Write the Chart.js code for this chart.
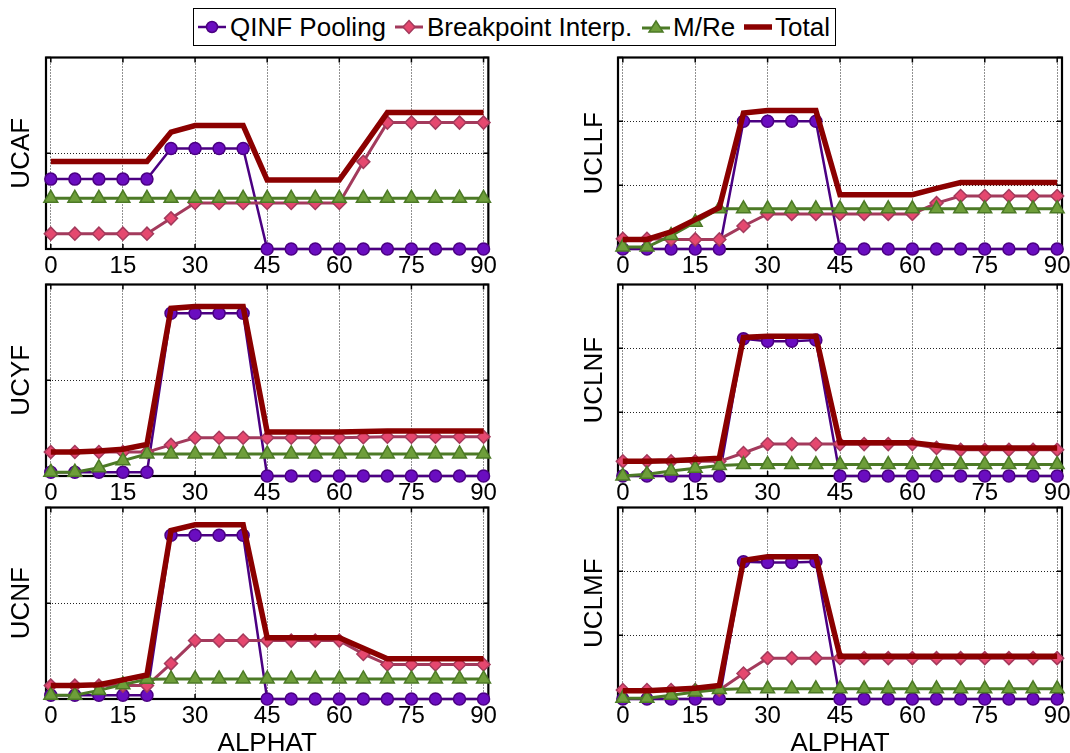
<!DOCTYPE html>
<html><head><meta charset="utf-8">
<script src="https://cdn.jsdelivr.net/npm/chart.js@4.4.1/dist/chart.umd.min.js"></script>
<style>
html,body{margin:0;padding:0;background:#fff;width:1070px;height:753px;overflow:hidden;font-family:"Liberation Sans",Arial,sans-serif;}
.pane{position:absolute;}
#legend{position:absolute;left:193px;top:8px;width:641px;height:36px;border:1.5px solid #000;background:#fff;color:#000;font-size:26px;}
#legend .ic{position:absolute;top:0;width:28px;height:36px;}
#legend .tx{position:absolute;top:0;line-height:36px;white-space:nowrap;}
</style></head>
<body>
<div id="legend">
  <svg class="ic" style="left:4px" viewBox="0 0 28 36"><line x1="0" y1="18" x2="28" y2="18" stroke="#4B0082" stroke-width="2.5"/><circle cx="14" cy="18" r="5.5" fill="#6A0DC0" stroke="#4B0082" stroke-width="1.5"/></svg>
  <span class="tx" style="left:36px">QINF Pooling</span>
  <svg class="ic" style="left:201px" viewBox="0 0 28 36"><line x1="0" y1="18" x2="28" y2="18" stroke="#A33A5C" stroke-width="3"/><polygon points="14,11.5 20,18 14,24.5 8,18" fill="#E5486F" stroke="#A33A5C" stroke-width="1.5"/></svg>
  <span class="tx" style="left:233px">Breakpoint Interp.</span>
  <svg class="ic" style="left:448px" viewBox="0 0 28 36"><line x1="0" y1="19" x2="28" y2="19" stroke="#4C7A26" stroke-width="3"/><polygon points="14,12 21,23 7,23" fill="#6E9E3A" stroke="#4C7A26" stroke-width="1.5"/></svg>
  <span class="tx" style="left:479px">M/Re</span>
  <svg class="ic" style="left:550px" viewBox="0 0 28 36"><line x1="0" y1="18" x2="28" y2="18" stroke="#8B0000" stroke-width="5.5"/></svg>
  <span class="tx" style="left:581px">Total</span>
</div>

<div class="pane" id="p0"><canvas id="c0"></canvas></div>
<div class="pane" id="p1"><canvas id="c1"></canvas></div>
<div class="pane" id="p2"><canvas id="c2"></canvas></div>
<div class="pane" id="p3"><canvas id="c3"></canvas></div>
<div class="pane" id="p4"><canvas id="c4"></canvas></div>
<div class="pane" id="p5"><canvas id="c5"></canvas></div>

<script>
// ---------------- data ----------------
const alpha = [0,5,10,15,20,25,30,35,40,45,50,55,60,65,70,75,80,85,90];
const xTicks = [0,15,30,45,60,75,90];
const yTicksTwo = [0,1,2];
const yTicksThree = [0,1,2,3];
const seriesNames = ['QINF Pooling','Breakpoint Interp.','M/Re','Total'];
const panelTitles = ['UCAF','UCLLF','UCYF','UCLNF','UCNF','UCLMF'];
const xTitle = 'ALPHAT';

const ucafQinf  = [0.73,0.73,0.73,0.73,0.73,1.05,1.05,1.05,1.05,0,0,0,0,0,0,0,0,0,0];
const ucafBreak = [0.16,0.16,0.16,0.16,0.16,0.32,0.48,0.48,0.48,0.48,0.48,0.48,0.48,0.91,1.32,1.32,1.32,1.32,1.32];
const ucafMre   = [0.53,0.53,0.53,0.53,0.53,0.53,0.53,0.53,0.53,0.53,0.53,0.53,0.53,0.53,0.53,0.53,0.53,0.53,0.53];
const ucafTotal = [0.915,0.915,0.915,0.915,0.915,1.22,1.29,1.29,1.29,0.72,0.72,0.72,0.72,1.07,1.425,1.425,1.425,1.425,1.425];

const ucllfQinf  = [0,0,0,0,0,2.0,2.0,2.0,2.0,0,0,0,0,0,0,0,0,0,0];
const ucllfBreak = [0.16,0.16,0.15,0.15,0.15,0.36,0.55,0.55,0.55,0.55,0.55,0.55,0.55,0.72,0.83,0.83,0.83,0.83,0.83];
const ucllfMre   = [0.03,0.03,0.21,0.42,0.63,0.63,0.63,0.63,0.63,0.63,0.63,0.63,0.63,0.63,0.63,0.63,0.63,0.63,0.63];
const ucllfTotal = [0.15,0.15,0.27,0.46,0.65,2.13,2.17,2.17,2.17,0.85,0.85,0.85,0.85,0.95,1.04,1.04,1.04,1.04,1.04];

const ucyfQinf  = [0.04,0.04,0.04,0.04,0.04,1.70,1.70,1.70,1.70,0,0,0,0,0,0,0,0,0,0];
const ucyfBreak = [0.25,0.25,0.25,0.25,0.25,0.325,0.40,0.40,0.40,0.40,0.40,0.40,0.40,0.405,0.41,0.41,0.41,0.41,0.41];
const ucyfMre   = [0.04,0.04,0.086,0.16,0.23,0.23,0.23,0.23,0.23,0.23,0.23,0.23,0.23,0.23,0.23,0.23,0.23,0.23,0.23];
const ucyfTotal = [0.25,0.25,0.26,0.28,0.33,1.75,1.77,1.77,1.77,0.46,0.46,0.46,0.46,0.465,0.47,0.47,0.47,0.47,0.47];

const uclnfQinf  = [0,0,0,0,0,2.15,2.11,2.11,2.13,0,0,0,0,0,0,0,0,0,0];
const uclnfBreak = [0.23,0.23,0.23,0.23,0.23,0.36,0.50,0.50,0.50,0.50,0.50,0.50,0.50,0.44,0.41,0.41,0.41,0.41,0.41];
const uclnfMre   = [0,0.026,0.077,0.12,0.164,0.18,0.18,0.18,0.18,0.18,0.18,0.18,0.18,0.18,0.18,0.18,0.18,0.18,0.18];
const uclnfTotal = [0.23,0.23,0.24,0.26,0.28,2.17,2.19,2.19,2.19,0.52,0.52,0.52,0.52,0.48,0.44,0.44,0.44,0.44,0.44];

const ucnfQinf  = [0.04,0.04,0.04,0.04,0.04,1.71,1.71,1.71,1.71,0,0,0,0,0,0,0,0,0,0];
const ucnfBreak = [0.14,0.14,0.14,0.14,0.14,0.37,0.61,0.61,0.61,0.61,0.61,0.61,0.61,0.47,0.36,0.36,0.36,0.36,0.36];
const ucnfMre   = [0.04,0.04,0.09,0.15,0.205,0.21,0.21,0.21,0.21,0.21,0.21,0.21,0.21,0.21,0.21,0.21,0.21,0.21,0.21];
const ucnfTotal = [0.14,0.14,0.15,0.20,0.25,1.76,1.82,1.82,1.82,0.64,0.64,0.64,0.64,0.53,0.42,0.42,0.42,0.42,0.42];

const uclmfQinf  = [0,0,0,0,0,2.15,2.14,2.14,2.15,0,0,0,0,0,0,0,0,0,0];
const uclmfBreak = [0.14,0.14,0.14,0.14,0.14,0.40,0.64,0.64,0.64,0.64,0.64,0.64,0.64,0.64,0.64,0.64,0.64,0.64,0.64];
const uclmfMre   = [0.01,0.01,0.06,0.11,0.15,0.16,0.16,0.16,0.16,0.16,0.16,0.16,0.16,0.16,0.16,0.16,0.16,0.16,0.16];
const uclmfTotal = [0.13,0.13,0.15,0.17,0.21,2.17,2.23,2.23,2.23,0.67,0.67,0.67,0.67,0.67,0.67,0.67,0.67,0.67,0.67];

// ---------------- styles / layout ----------------
const FONT = '"Liberation Sans", Arial, Helvetica, sans-serif';
const styles = [
  {borderColor:'#4B0082', borderWidth:2.5, pointStyle:'circle', pointRadius:6, pointBackgroundColor:'#6A0DC0', pointBorderColor:'#4B0082', pointBorderWidth:1.5, order:4},
  {borderColor:'#A33A5C', borderWidth:3, pointStyle:'rectRot', pointRadius:6.5, pointBackgroundColor:'#E5486F', pointBorderColor:'#A33A5C', pointBorderWidth:1.5, order:3},
  {borderColor:'#4C7A26', borderWidth:3, pointStyle:'triangle', pointRadius:8, pointBackgroundColor:'#6E9E3A', pointBorderColor:'#4C7A26', pointBorderWidth:1.5, order:2},
  {borderColor:'#8B0000', borderWidth:5.5, pointRadius:0, order:1}
];
const cols = [
  {cLeft:0,   areaL:46,  areaR:490,  cRight:500},
  {cLeft:573, areaL:618, areaR:1062, cRight:1076}
];
const rows = [
  {cTop:48,  areaT:54,  areaB:249, cBottom:282},
  {cTop:275, areaT:281, areaB:476, cBottom:509},
  {cTop:498, areaT:504, areaB:699, cBottom:757}
];
const panels = [
  {series:[ucafQinf, ucafBreak, ucafMre, ucafTotal],     yTicks:yTicksTwo,   col:0, row:0},
  {series:[ucllfQinf, ucllfBreak, ucllfMre, ucllfTotal], yTicks:yTicksThree, col:1, row:0},
  {series:[ucyfQinf, ucyfBreak, ucyfMre, ucyfTotal],     yTicks:yTicksTwo,   col:0, row:1},
  {series:[uclnfQinf, uclnfBreak, uclnfMre, uclnfTotal], yTicks:yTicksThree, col:1, row:1},
  {series:[ucnfQinf, ucnfBreak, ucnfMre, ucnfTotal],     yTicks:yTicksTwo,   col:0, row:2},
  {series:[uclmfQinf, uclmfBreak, uclmfMre, uclmfTotal], yTicks:yTicksThree, col:1, row:2}
];

const framePlugin = {
  id:'frame',
  beforeDatasetsDraw(chart){
    const {ctx, chartArea:a, scales} = chart;
    ctx.save();
    ctx.setLineDash([]);
    ctx.strokeStyle = '#000';
    ctx.lineWidth = 1.5;
    ctx.beginPath();
    scales.x.ticks.forEach(t => {
      const px = scales.x.getPixelForValue(t.value);
      ctx.moveTo(px, a.bottom); ctx.lineTo(px, a.bottom - 5);
      ctx.moveTo(px, a.top); ctx.lineTo(px, a.top + 5);
    });
    scales.y.ticks.forEach(t => {
      const py = scales.y.getPixelForValue(t.value);
      ctx.moveTo(a.left, py); ctx.lineTo(a.left + 5, py);
      ctx.moveTo(a.right, py); ctx.lineTo(a.right - 5, py);
    });
    ctx.stroke();
    ctx.lineWidth = 2.2;
    ctx.strokeRect(a.left, a.top, a.right - a.left, a.bottom - a.top);
    ctx.restore();
  }
};

panels.forEach((p, i) => {
  const c = cols[p.col], r = rows[p.row];
  const W = c.cRight - c.cLeft, H = r.cBottom - r.cTop;
  const pane = document.getElementById('p' + i);
  pane.style.left = c.cLeft + 'px'; pane.style.top = r.cTop + 'px';
  pane.style.width = W + 'px'; pane.style.height = H + 'px';
  const cv = document.getElementById('c' + i);
  cv.width = W; cv.height = H; cv.style.width = W + 'px'; cv.style.height = H + 'px';
  const yW = c.areaL - c.cLeft;
  const xH = r.cBottom - r.areaB;
  const isBottom = p.row === 2;
  const yMax = p.yTicks[p.yTicks.length - 1];
  new Chart(cv, {
    type:'line',
    data:{
      datasets: p.series.map((vals, k) => Object.assign({
        label: seriesNames[k],
        data: alpha.map((x, j) => ({x:x, y:vals[j]})),
        fill:false, tension:0, clip:false
      }, styles[k]))
    },
    options:{
      responsive:false, animation:false, maintainAspectRatio:false,
      layout:{padding:{left:0, top:r.areaT - r.cTop, right:c.cRight - c.areaR, bottom:0}},
      plugins:{legend:{display:false}, tooltip:{enabled:false}},
      scales:{
        x:{
          type:'linear', min:-1, max:91,
          afterBuildTicks: s => { s.ticks = xTicks.map(v => ({value:v})); },
          afterFit: s => { s.height = xH; },
          ticks:{font:{family:FONT, size:24}, color:'#000', padding:3, maxRotation:0, autoSkip:false},
          grid:{color:'#222', lineWidth:1, drawTicks:false},
          border:{display:false, dash:[1,2]},
          title:{display:isBottom, text:xTitle, color:'#000', font:{family:FONT, size:26, lineHeight:1}, padding:{top:0, bottom:0}}
        },
        y:{
          type:'linear', min:0, max:yMax,
          afterBuildTicks: s => { s.ticks = p.yTicks.map(v => ({value:v})); },
          afterFit: s => { s.width = yW; },
          ticks:{display:false},
          grid:{color:'#222', lineWidth:1, drawTicks:false},
          border:{display:false, dash:[1,2]},
          title:{display:true, text:panelTitles[i], color:'#000', font:{family:FONT, size:26, lineHeight:1}, padding:{top:9, bottom:0}}
        }
      }
    },
    plugins:[framePlugin]
  });
});
</script>
</body></html>
